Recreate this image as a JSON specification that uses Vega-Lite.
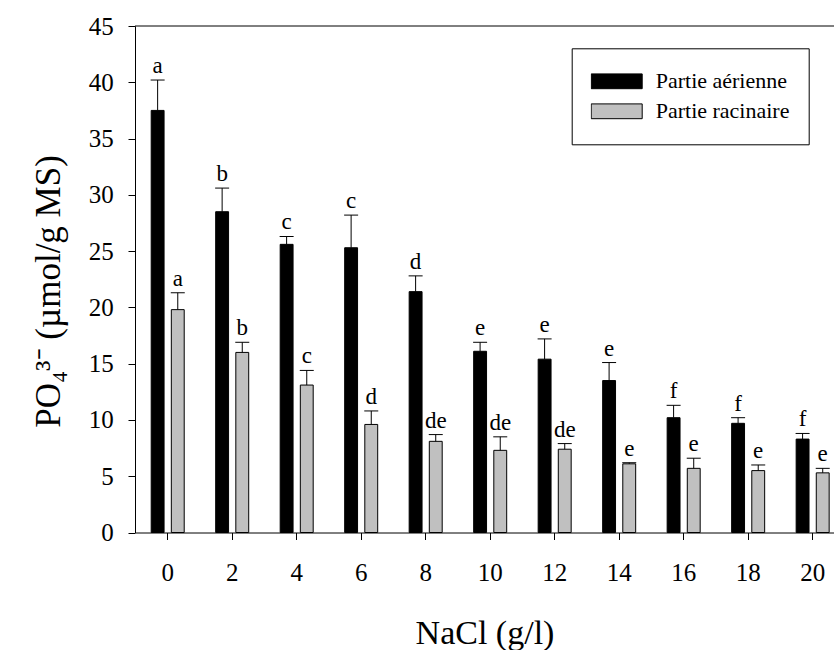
{
  "$schema": "https://vega.github.io/schema/vega-lite/v6.json",
  "width": 699,
  "height": 506.5,
  "autosize": {"type": "none"},
  "padding": {"left": 135, "top": 26, "right": 0, "bottom": 117.5},
  "background": "white",
  "config": {
    "view": {"stroke": null},
    "font": "Liberation Serif",
    "axis": {
      "grid": false,
      "domainColor": "black",
      "tickColor": "black",
      "labelColor": "black",
      "titleColor": "black",
      "labelFont": "Liberation Serif",
      "titleFont": "Liberation Serif",
      "titleFontWeight": "normal",
      "labelFontSize": 25,
      "titleFontSize": 34,
      "tickSize": 7
    }
  },
  "data": {
    "values": [
      {"nacl": 0, "partie": "Partie aérienne", "mean": 37.5, "upper": 40.2, "lettre": "a"},
      {"nacl": 2, "partie": "Partie aérienne", "mean": 28.5, "upper": 30.6, "lettre": "b"},
      {"nacl": 4, "partie": "Partie aérienne", "mean": 25.6, "upper": 26.3, "lettre": "c"},
      {"nacl": 6, "partie": "Partie aérienne", "mean": 25.3, "upper": 28.2, "lettre": "c"},
      {"nacl": 8, "partie": "Partie aérienne", "mean": 21.4, "upper": 22.8, "lettre": "d"},
      {"nacl": 10, "partie": "Partie aérienne", "mean": 16.1, "upper": 16.9, "lettre": "e"},
      {"nacl": 12, "partie": "Partie aérienne", "mean": 15.4, "upper": 17.2, "lettre": "e"},
      {"nacl": 14, "partie": "Partie aérienne", "mean": 13.5, "upper": 15.1, "lettre": "e"},
      {"nacl": 16, "partie": "Partie aérienne", "mean": 10.2, "upper": 11.3, "lettre": "f"},
      {"nacl": 18, "partie": "Partie aérienne", "mean": 9.7, "upper": 10.2, "lettre": "f"},
      {"nacl": 20, "partie": "Partie aérienne", "mean": 8.3, "upper": 8.8, "lettre": "f"},
      {"nacl": 0, "partie": "Partie racinaire", "mean": 19.8, "upper": 21.3, "lettre": "a"},
      {"nacl": 2, "partie": "Partie racinaire", "mean": 16.0, "upper": 16.9, "lettre": "b"},
      {"nacl": 4, "partie": "Partie racinaire", "mean": 13.1, "upper": 14.4, "lettre": "c"},
      {"nacl": 6, "partie": "Partie racinaire", "mean": 9.6, "upper": 10.8, "lettre": "d"},
      {"nacl": 8, "partie": "Partie racinaire", "mean": 8.1, "upper": 8.7, "lettre": "de"},
      {"nacl": 10, "partie": "Partie racinaire", "mean": 7.3, "upper": 8.5, "lettre": "de"},
      {"nacl": 12, "partie": "Partie racinaire", "mean": 7.4, "upper": 7.9, "lettre": "de"},
      {"nacl": 14, "partie": "Partie racinaire", "mean": 6.1, "upper": 6.2, "lettre": "e"},
      {"nacl": 16, "partie": "Partie racinaire", "mean": 5.7, "upper": 6.6, "lettre": "e"},
      {"nacl": 18, "partie": "Partie racinaire", "mean": 5.5, "upper": 6.0, "lettre": "e"},
      {"nacl": 20, "partie": "Partie racinaire", "mean": 5.3, "upper": 5.7, "lettre": "e"}
    ]
  },
  "layer": [
    {
      "mark": {"type": "bar", "stroke": "black", "strokeWidth": 1},
      "encoding": {
        "x": {
          "field": "nacl",
          "type": "ordinal",
          "scale": {"paddingInner": 0.488, "paddingOuter": 0.163, "align": 0.77},
          "axis": {
            "title": "NaCl (g/l)",
            "labelAngle": 0,
            "labelPadding": 21,
            "titleBaseline": "alphabetic",
            "titleY": 111
          }
        },
        "xOffset": {
          "field": "partie",
          "type": "nominal",
          "scale": {"domain": ["Partie aérienne", "Partie racinaire"], "paddingInner": 0.36, "paddingOuter": 0}
        },
        "y": {
          "field": "mean",
          "type": "quantitative",
          "scale": {"domain": [0, 45], "nice": false},
          "axis": {
            "title": "PO₄³⁻ (µmol/g MS)",
            "titleFontSize": 35,
            "values": [0, 5, 10, 15, 20, 25, 30, 35, 40, 45],
            "labelPadding": 14.7,
            "titleBaseline": "alphabetic",
            "titleX": -76,
            "titleY": 265
          }
        },
        "color": {
          "field": "partie",
          "type": "nominal",
          "scale": {"domain": ["Partie aérienne", "Partie racinaire"], "range": ["#000000", "#c0c0c0"]},
          "legend": {
            "title": null,
            "orient": "none",
            "legendX": 436.7,
            "legendY": 22.3,
            "padding": 19,
            "clipHeight": 28,
            "strokeColor": "black",
            "fillColor": "white",
            "symbolType": "M-1,-0.29H1V0.29H-1Z",
            "symbolSize": 2601,
            "symbolStrokeColor": "black",
            "symbolStrokeWidth": 1,
            "symbolOpacity": 1,
            "labelFont": "Liberation Serif",
            "labelFontSize": 22,
            "labelColor": "black",
            "labelOffset": 13
          }
        }
      }
    },
    {
      "mark": {"type": "rule", "color": "black", "strokeWidth": 1},
      "encoding": {
        "x": {"field": "nacl", "type": "ordinal"},
        "xOffset": {"field": "partie", "type": "nominal"},
        "y": {"field": "mean", "type": "quantitative"},
        "y2": {"field": "upper"}
      }
    },
    {
      "mark": {"type": "tick", "orient": "horizontal", "size": 14, "thickness": 1, "color": "black", "opacity": 1},
      "encoding": {
        "x": {"field": "nacl", "type": "ordinal"},
        "xOffset": {"field": "partie", "type": "nominal"},
        "y": {"field": "upper", "type": "quantitative"}
      }
    },
    {
      "mark": {"type": "text", "font": "Liberation Serif", "fontSize": 23, "baseline": "alphabetic", "dy": -7, "color": "black"},
      "encoding": {
        "x": {"field": "nacl", "type": "ordinal"},
        "xOffset": {"field": "partie", "type": "nominal"},
        "y": {"field": "upper", "type": "quantitative"},
        "text": {"field": "lettre"}
      }
    },
    {
      "data": {"values": [{}]},
      "mark": {"type": "rule", "color": "black", "strokeWidth": 1},
      "encoding": {"y": {"datum": 45}}
    }
  ]
}
